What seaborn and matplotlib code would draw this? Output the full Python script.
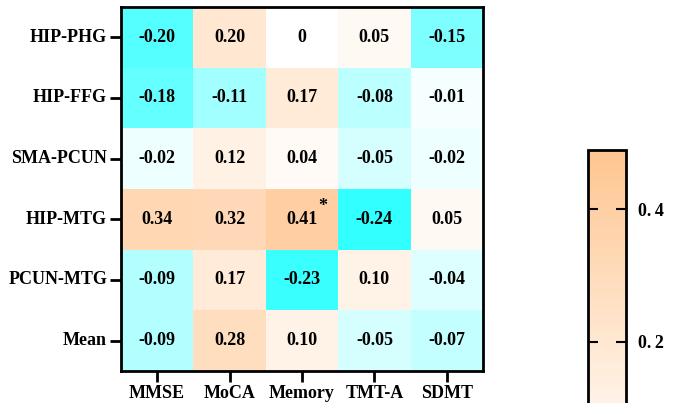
import numpy as np
import pandas as pd
import matplotlib
matplotlib.use("Agg")
import matplotlib.pyplot as plt
from matplotlib.colors import LinearSegmentedColormap
import seaborn as sns

# Correlation coefficients between connectivity measures and cognitive scores
rows = ["HIP-PHG", "HIP-FFG", "SMA-PCUN", "HIP-MTG", "PCUN-MTG", "Mean"]
cols = ["MMSE", "MoCA", "Memory", "TMT-A", "SDMT"]
hip_phg = [-0.20, 0.20, 0.00, 0.05, -0.15]
hip_ffg = [-0.18, -0.11, 0.17, -0.08, -0.01]
sma_pcun = [-0.02, 0.12, 0.04, -0.05, -0.02]
hip_mtg = [0.34, 0.32, 0.41, -0.24, 0.05]
pcun_mtg = [-0.09, 0.17, -0.23, 0.10, -0.04]
mean_row = [-0.09, 0.28, 0.10, -0.05, -0.07]
# significant cell (row, column)
sig_cells = [("HIP-MTG", "Memory")]

cbar_ticks = [0.2, 0.4]

df = pd.DataFrame([hip_phg, hip_ffg, sma_pcun, hip_mtg, pcun_mtg, mean_row],
                  index=rows, columns=cols)
labels = df.map(lambda v: "0" if v == 0 else f"{v:.2f}")

vmin, vmax = -0.30, 0.49
zero_pos = (0 - vmin) / (vmax - vmin)
cmap = LinearSegmentedColormap.from_list(
    "cyan_peach", [(0.0, "#00FFFF"), (zero_pos, "#FFFFFF"), (1.0, "#FFC590")])

plt.rcParams["font.family"] = ["Liberation Serif", "DejaVu Serif"]
plt.rcParams["font.weight"] = "bold"

W, H = 673, 403
fig = plt.figure(figsize=(W / 100, H / 100), dpi=100)

def px_axes(x0, y0, x1, y1):
    return fig.add_axes([x0 / W, (H - y1) / H, (x1 - x0) / W, (y1 - y0) / H])

ax = px_axes(121, 7, 483, 371)
# colour bar extends below the figure edge
cax = px_axes(588, 150, 626, 342 + (0.2 - vmin) * 660)

sns.heatmap(df, ax=ax, cbar_ax=cax, cmap=cmap, vmin=vmin, vmax=vmax,
            annot=labels, fmt="", linewidths=0,
            annot_kws={"fontsize": 13, "fontweight": "bold", "color": "black"})

for r, c in sig_cells:
    i, j = rows.index(r), cols.index(c)
    ax.text(j + 0.79, i + 0.29, "*", ha="center", va="center",
            fontsize=13, fontweight="bold", color="black")

for s in ax.spines.values():
    s.set_visible(True)
    s.set_linewidth(2)
    s.set_color("black")
ax.tick_params(axis="both", direction="out", length=8, width=2, color="black",
               labelsize=13, pad=2)
ax.tick_params(axis="y", rotation=0)
ax.tick_params(axis="x", rotation=0, pad=2)
for t in ax.get_xticklabels() + ax.get_yticklabels():
    t.set_fontweight("bold")

cb = ax.collections[0].colorbar
cb.outline.set_linewidth(2)
cb.outline.set_edgecolor("black")
cax.set_yticks(cbar_ticks)
cax.set_yticklabels([f"{t:.1f}".replace(".", ".\u2009") for t in cbar_ticks])
cax.tick_params(axis="y", which="both", left=True, right=True, labelleft=False,
                labelright=True, direction="in", length=7, width=1.5,
                labelsize=13, pad=9)
for t in cax.get_yticklabels():
    t.set_fontweight("bold")

fig.savefig("out.png", dpi=100)
